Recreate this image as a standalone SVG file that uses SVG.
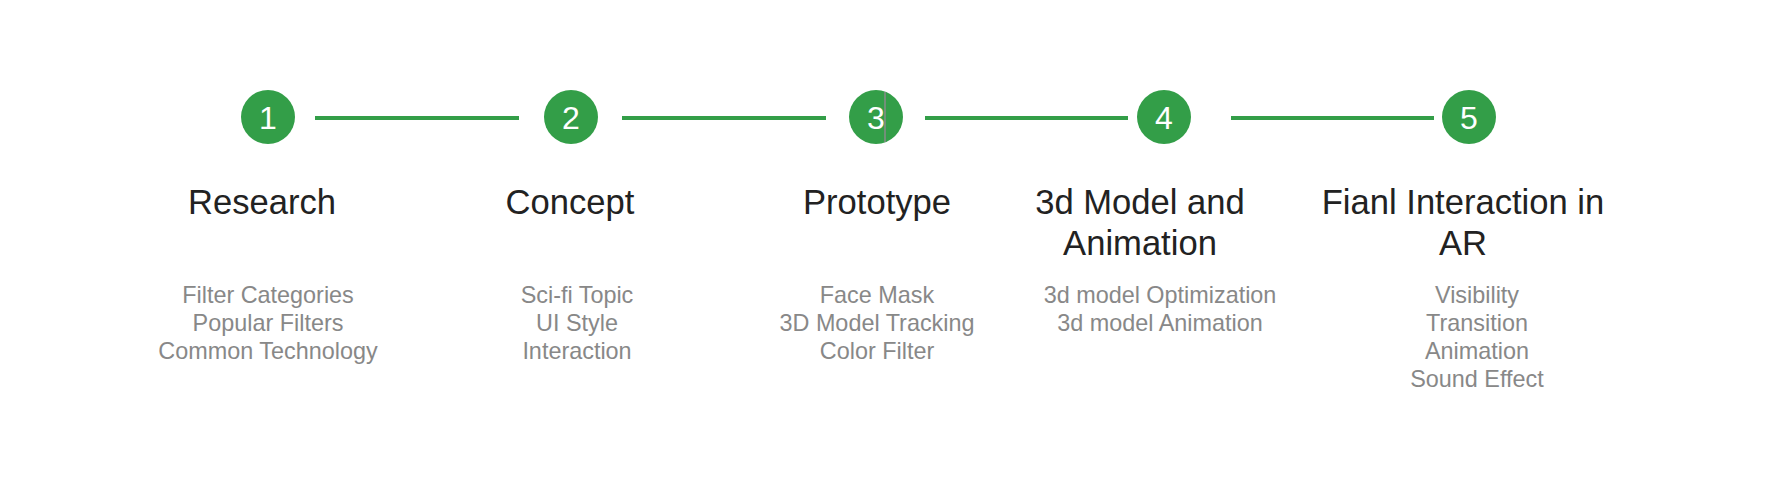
<svg xmlns="http://www.w3.org/2000/svg" width="1769" height="496" viewBox="0 0 1769 496">
<style>
.dot{fill:#339e48}
.num{font-family:"Liberation Sans",Arial,sans-serif;font-size:32px;fill:#ffffff;text-anchor:middle}
.title{font-family:"Liberation Sans",Arial,sans-serif;font-size:34.6px;fill:#222222;text-anchor:middle}
.sub{font-family:"Liberation Sans",Arial,sans-serif;font-size:23.4px;fill:#888888;text-anchor:middle}
.link{stroke:#339e48;stroke-width:4;fill:none}
</style>
<rect width="1769" height="496" fill="#ffffff"/>
<g id="connectors">
<line class="link" x1="315" y1="118" x2="519" y2="118"/>
<line class="link" x1="622" y1="118" x2="826" y2="118"/>
<line class="link" x1="925" y1="118" x2="1128" y2="118"/>
<line class="link" x1="1231" y1="118" x2="1434" y2="118"/>
</g>
<g id="step1">
<circle class="dot" cx="268" cy="117" r="27"/>
<text class="num" x="268" y="129">1</text>
<text class="title" x="262" y="214">Research</text>
<text class="sub" x="268" y="303">Filter Categories</text>
<text class="sub" x="268" y="331">Popular Filters</text>
<text class="sub" x="268" y="359">Common Technology</text>
</g>
<g id="step2">
<circle class="dot" cx="571" cy="117" r="27"/>
<text class="num" x="571" y="129">2</text>
<text class="title" x="570" y="214">Concept</text>
<text class="sub" x="577" y="303">Sci-fi Topic</text>
<text class="sub" x="577" y="331">UI Style</text>
<text class="sub" x="577" y="359">Interaction</text>
</g>
<g id="step3">
<circle class="dot" cx="876" cy="117" r="27"/>
<text class="num" x="876" y="129">3</text>
<line x1="885" y1="92" x2="885" y2="142" stroke="#8a8a8a" stroke-width="1.5"/>
<text class="title" x="877" y="214">Prototype</text>
<text class="sub" x="877" y="303">Face Mask</text>
<text class="sub" x="877" y="331">3D Model Tracking</text>
<text class="sub" x="877" y="359">Color Filter</text>
</g>
<g id="step4">
<circle class="dot" cx="1164" cy="117" r="27"/>
<text class="num" x="1164" y="129">4</text>
<text class="title" x="1140" y="214">3d Model and</text>
<text class="title" x="1140" y="255">Animation</text>
<text class="sub" x="1160" y="303">3d model Optimization</text>
<text class="sub" x="1160" y="331">3d model Animation</text>
</g>
<g id="step5">
<circle class="dot" cx="1469" cy="117" r="27"/>
<text class="num" x="1469" y="129">5</text>
<text class="title" x="1463" y="214">Fianl Interaction in</text>
<text class="title" x="1463" y="255">AR</text>
<text class="sub" x="1477" y="303">Visibility</text>
<text class="sub" x="1477" y="331">Transition</text>
<text class="sub" x="1477" y="359">Animation</text>
<text class="sub" x="1477" y="387">Sound Effect</text>
</g>
</svg>
